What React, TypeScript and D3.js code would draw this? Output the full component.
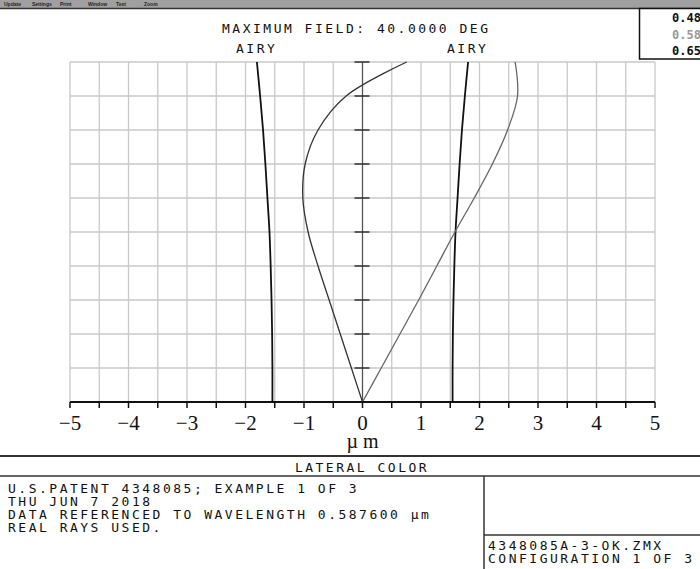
import React from "react"
import * as d3 from "d3"

// relative field height (0 = axis, 1 = max field 40 deg)
const fieldSteps = [0, 0.1, 0.2, 0.3, 0.4, 0.5, 0.6, 0.7, 0.8, 0.9, 1.0]
// lateral color, short - reference wavelength (µm)
const shortWave = [0, -0.19, -0.38, -0.57, -0.76, -0.93, -1.02, -0.98, -0.76, -0.28, 0.755]
// lateral color, long - reference wavelength (µm)
const longWave = [0, 0.32, 0.64, 0.96, 1.27, 1.58, 1.91, 2.22, 2.48, 2.65, 2.61]

// airy disk radius vs field
const airyRadius = [1.54, 1.54, 1.545, 1.555, 1.57, 1.59, 1.625, 1.66, 1.7, 1.75, 1.805]

const xTicks = [-5, -4, -3, -2, -1, 0, 1, 2, 3, 4, 5]
const wavelengths = ["0.486", "0.588", "0.656"]
const menuItems = ["Update", "Settings", "Print", "Window", "Text", "Zoom"]
const infoLines = [
	"U.S.PATENT 4348085; EXAMPLE 1 OF 3",
	"THU JUN 7 2018",
	"DATA REFERENCED TO WAVELENGTH 0.587600 µm",
	"REAL RAYS USED.",
]
const fileLines = ["4348085A-3-OK.ZMX", "CONFIGURATION 1 OF 3"]

const W = 700
const H = 569

const mono = "'DejaVu Sans Mono', monospace"

const App: React.FunctionComponent = () => {
	const x = d3.scaleLinear().domain([-5, 5]).range([70, 655])
	const y = d3.scaleLinear().domain([0, 1]).range([402, 62])

	const line = d3
		.line<[number, number]>()
		.x((d) => x(d[0]))
		.y((d) => y(d[1]))
		.curve(d3.curveCatmullRom)

	const shortPts = fieldSteps.map((f, i) => [shortWave[i], f] as [number, number])
	const longPts = fieldSteps.map((f, i) => [longWave[i], f] as [number, number])
	const airyLeft = fieldSteps.map((f, i) => [-airyRadius[i], f] as [number, number])
	const airyRight = fieldSteps.map((f, i) => [airyRadius[i], f] as [number, number])

	const vGrid = d3.range(-5, 5.01, 0.5)
	const hGrid = d3.range(0, 1.001, 0.1)

	return (
		<svg width={W} height={H} style={{ display: "block", position: "absolute", left: 0, top: 0, background: "#fff" }}>
			{/* toolbar */}
			<rect x={0} y={0} width={W} height={8} fill="#a0a0a0" />
			<line x1={0} x2={W} y1={8.5} y2={8.5} stroke="#333" strokeWidth={1.5} />
			{menuItems.map((m, i) => (
				<text key={m} x={4 + i * 28} y={6} fontSize={5} fontFamily="Liberation Sans" fontWeight="bold" fill="#222">
					{m}
				</text>
			))}

			{/* legend box */}
			<rect x={639.5} y={8.5} width={70} height={50.5} fill="#fff" stroke="#111" strokeWidth={1.5} />
			{wavelengths.map((w, i) => (
				<text
					key={w}
					x={672}
					y={22 + i * 16.5}
					fontSize={12}
					fontFamily={mono}
					fontWeight="bold"
					fill={i === 1 ? "#999" : "#111"}
				>
					{w}
				</text>
			))}

			{/* title */}
			<text x={222} y={33} fontSize={13} fontFamily={mono} letterSpacing={2.5} fill="#111">
				MAXIMUM FIELD: 40.0000 DEG
			</text>
			<text x={236} y={53} fontSize={13} fontFamily={mono} letterSpacing={2.5} fill="#111">
				AIRY
			</text>
			<text x={447} y={53} fontSize={13} fontFamily={mono} letterSpacing={2.5} fill="#111">
				AIRY
			</text>

			{/* grid */}
			{vGrid.map((v) => (
				<line key={"v" + v} x1={x(v)} x2={x(v)} y1={y(0)} y2={y(1)} stroke="#c8c8c8" strokeWidth={1.3} />
			))}
			{hGrid.map((h) => (
				<line key={"h" + h} x1={x(-5)} x2={x(5)} y1={y(h)} y2={y(h)} stroke="#c8c8c8" strokeWidth={1.3} />
			))}

			{/* center axis with ticks */}
			<line x1={x(0)} x2={x(0)} y1={y(0)} y2={y(1)} stroke="#555" strokeWidth={1.2} />
			{hGrid.slice(1).map((h) => (
				<line key={"t" + h} x1={x(0) - 8} x2={x(0) + 7} y1={y(h)} y2={y(h)} stroke="#333" strokeWidth={1.5} />
			))}

			{/* airy disk */}
			<path d={line(airyLeft) || ""} fill="none" stroke="#111" strokeWidth={1.8} />
			<path d={line(airyRight) || ""} fill="none" stroke="#111" strokeWidth={1.8} />

			{/* lateral color curves */}
			<path d={line(shortPts) || ""} fill="none" stroke="#333" strokeWidth={1.3} />
			<path d={line(longPts) || ""} fill="none" stroke="#666" strokeWidth={1.3} />

			{/* bottom axis */}
			<line x1={x(-5)} x2={x(5)} y1={y(0)} y2={y(0)} stroke="#111" strokeWidth={2} />
			{vGrid.map((v) => (
				<line key={"bt" + v} x1={x(v)} x2={x(v)} y1={y(0)} y2={y(0) + 6} stroke="#111" strokeWidth={1.5} />
			))}
			{xTicks.map((t) => (
				<text
					key={"l" + t}
					x={x(t)}
					y={430}
					textAnchor="middle"
					fontSize={21}
					fontFamily="'Liberation Serif', serif"
					fill="#111"
				>
					{t < 0 ? "\u2212" + Math.abs(t) : String(t)}
				</text>
			))}
			<text x={x(0)} y={448} textAnchor="middle" fontSize={20} fontFamily="'Liberation Serif', serif" fill="#111">
				µ m
			</text>

			{/* bottom info panel */}
			<line x1={0} x2={W} y1={456} y2={456} stroke="#333" strokeWidth={2} />
			<text x={362} y={472} textAnchor="middle" fontSize={13} fontFamily={mono} letterSpacing={2.5} fill="#111">
				LATERAL COLOR
			</text>
			<line x1={0} x2={W} y1={476} y2={476} stroke="#333" strokeWidth={1.5} />
			<line x1={484} x2={484} y1={476} y2={H} stroke="#333" strokeWidth={1.5} />
			<line x1={484} x2={W} y1={535} y2={535} stroke="#333" strokeWidth={1.5} />
			{infoLines.map((t, i) => (
				<text key={t} x={8} y={493 + i * 13} fontSize={13} fontFamily={mono} letterSpacing={2.5} fill="#111">
					{t}
				</text>
			))}
			{fileLines.map((t, i) => (
				<text key={t} x={488} y={550 + i * 13} fontSize={13} fontFamily={mono} letterSpacing={2.5} fill="#111">
					{t}
				</text>
			))}
		</svg>
	)
}

export default App
